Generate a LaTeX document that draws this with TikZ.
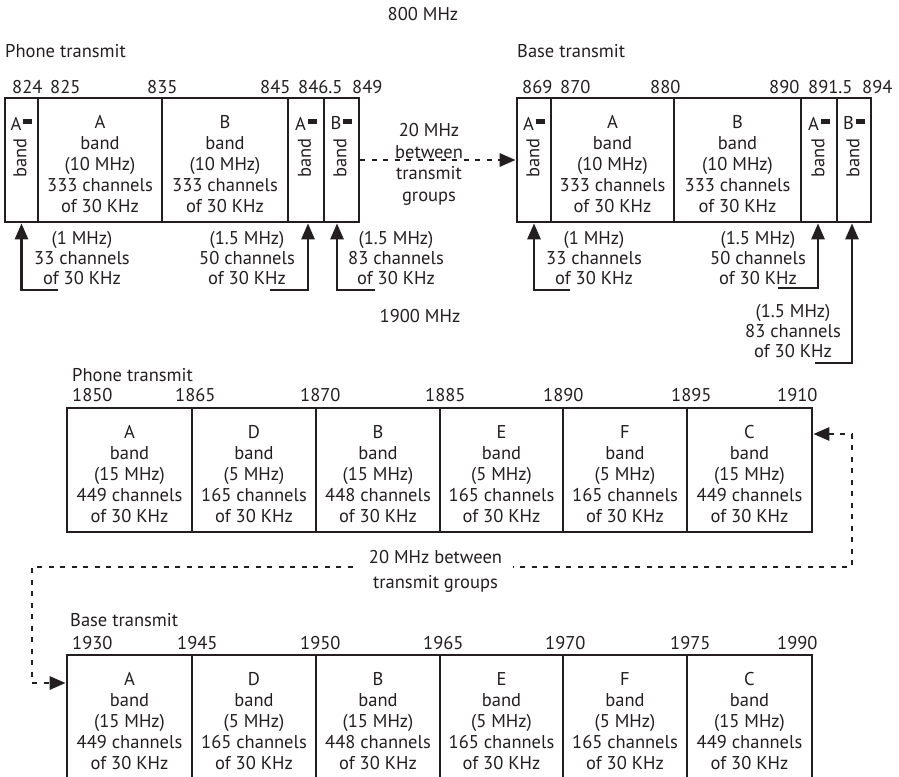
\documentclass[tikz,border=0pt]{standalone}
\usepackage{fontspec}
\setmainfont{PT Sans}
\usetikzlibrary{arrows.meta}
\definecolor{ink}{RGB}{35,31,32}
\newcommand\myfs{\fontsize{18.5pt}{21pt}\selectfont}
\newcommand\notefs{\fontsize{18.5pt}{20pt}\selectfont}
\newcommand\blk{\hspace{2pt}\rule[6pt]{9pt}{5pt}}
\begin{document}
\begin{tikzpicture}[x=1pt,y=-1pt,
  every node/.style={font=\myfs, text=ink},
  cell/.style={draw=ink, line width=2.7pt, minimum height=124pt, inner sep=0pt},
  celltext/.style={align=center, inner sep=0pt},
  lbl/.style={anchor=west, inner sep=0pt},
  note/.style={align=center, inner sep=0pt, font=\notefs},
  rot/.style={rotate=90, inner sep=0pt},
  tipA/.style={-{Triangle[length=16pt,width=13pt]}},
  conn/.style={draw=ink, line width=2.7pt, tipA},
  dotconn/.style={draw=ink, line width=2.8pt, dash pattern=on 5pt off 6.5pt},
]
\useasboundingbox (0,0) rectangle (899,776);

% ---------- titles ----------
\node (t800) at (423,14) {800 MHz};
\node[lbl] (tP1) at (5,51) {Phone transmit};
\node[lbl] (tB1) at (517,51) {Base transmit};
\node (t1900) at (420,316) {1900 MHz};
\node[lbl] (tP2) at (72,375) {Phone transmit};
\node[lbl] (tB2) at (70,620) {Base transmit};

% ---------- 800 MHz frequency labels ----------
\foreach \t/\x [count=\i] in {824/12, 825/50, 835/147, 845/260, 846.5/298, 849/352,
                              869/522, 870/560, 880/650, 890/769, 891.5/808, 894/862}
  \node[lbl] (f8\i) at (\x,87) {\t};

% ---------- 800 MHz phone cells ----------
\node[cell, minimum width=33pt] (pAn) at (21.5,160) {};
\node[cell, minimum width=124pt] (pA) at (100,160) {};
\node[cell, minimum width=126pt] (pB) at (225,160) {};
\node[cell, minimum width=36pt] (pAs) at (306,160) {};
\node[cell, minimum width=35pt] (pBs) at (341.5,160) {};

\node[celltext] (pAt) at ([yshift=-4pt]pA.center) {A\\band\\(10 MHz)\\333 channels\\of 30 KHz};
\node[celltext] (pBt) at ([yshift=-4pt]pB.center) {B\\band\\(10 MHz)\\333 channels\\of 30 KHz};
\node[inner sep=0pt] (pAnT) at (21.5,123.5) {A\blk};
\node[rot] (pAnR) at (20,158) {band};
\node[inner sep=0pt] (pAsT) at (306,123.5) {A\blk};
\node[rot] (pAsR) at (304.5,158) {band};
\node[inner sep=0pt] (pBsT) at (341.5,123.5) {B\blk};
\node[rot] (pBsR) at (340,158) {band};

% ---------- 800 MHz base cells ----------
\node[cell, minimum width=34pt] (bAn) at (534,160) {};
\node[cell, minimum width=123pt] (bA) at (612.5,160) {};
\node[cell, minimum width=127pt] (bB) at (737.5,160) {};
\node[cell, minimum width=36pt] (bAs) at (819,160) {};
\node[cell, minimum width=34pt] (bBs) at (854,160) {};

\node[celltext] (bAt) at ([yshift=-4pt]bA.center) {A\\band\\(10 MHz)\\333 channels\\of 30 KHz};
\node[celltext] (bBt) at ([yshift=-4pt]bB.center) {B\\band\\(10 MHz)\\333 channels\\of 30 KHz};
\node[inner sep=0pt] (bAnT) at (534,123.5) {A\blk};
\node[rot] (bAnR) at (533,158) {band};
\node[inner sep=0pt] (bAsT) at (819,123.5) {A\blk};
\node[rot] (bAsR) at (818,158) {band};
\node[inner sep=0pt] (bBsT) at (854,123.5) {B\blk};
\node[rot] (bBsR) at (853,158) {band};

% ---------- notes under the 800 MHz cells ----------
\node[note] (nL1) at (82,258) {(1 MHz)\\33 channels\\of 30 KHz};
\node[note] (nL2) at (247,258) {(1.5 MHz)\\50 channels\\of 30 KHz};
\node[note] (nL3) at (396,258) {(1.5 MHz)\\83 channels\\of 30 KHz};
\node[note] (nR1) at (594,258) {(1 MHz)\\33 channels\\of 30 KHz};
\node[note] (nR2) at (758,258) {(1.5 MHz)\\50 channels\\of 30 KHz};
\node[note] (nR3) at (793,331.5) {(1.5 MHz)\\83 channels\\of 30 KHz};

\coordinate (eL1) at (58,290);
\coordinate (eL2) at (270,290);
\coordinate (eL3) at (375,290);
\coordinate (eR1) at (570,290);
\coordinate (eR2) at (778,288);
\coordinate (eR3) at (815,363);
\draw[conn] (eL1) -| (pAn.south);
\draw[conn] (eL2) -| ([xshift=2pt]pAs.south);
\draw[conn] (eL3) -| ([xshift=-4.5pt]pBs.south);
\draw[conn] (eR1) -| (bAn.south);
\draw[conn] (eR2) -| ([xshift=-1pt]bAs.south);
\draw[conn] (eR3) -| ([xshift=-2pt]bBs.south);

% ---------- dashed link between 800 MHz groups ----------
\draw[dotconn, tipA] (pBs.east) -- (bAn.west);
\node[align=center, inner sep=0pt, font=\fontsize{18.5pt}{21.5pt}\selectfont] (gap1) at (429,164.5) {20 MHz\\between\\transmit\\groups};

% ---------- 1900 MHz frequency labels ----------
\foreach \t/\x [count=\i] in {1850/72, 1865/175, 1870/300, 1885/425, 1890/543, 1895/671, 1910/777}
  \node[lbl] (fm\i) at (\x,395) {\t};
\foreach \t/\x [count=\i] in {1930/72, 1945/177, 1950/300, 1965/423, 1970/545, 1975/670, 1990/777}
  \node[lbl] (fq\i) at (\x,643) {\t};

% ---------- 1900 MHz cells ----------
\foreach \n/\cx/\w/\L/\mhz/\ch in {A/129.5/125/A/15/449, D/254/124/D/5/165, B/378/124/B/15/448,
                                  E/501.5/123/E/5/165, F/625/124/F/5/165, C/749.5/125/C/15/449} {
  \node[cell, minimum width=\w pt] (m\n) at (\cx,470) {};
  \node[celltext] (mT\n) at ([yshift=-4pt]m\n.center) {\L\\band\\(\mhz~MHz)\\\ch~channels\\of 30 KHz};
  \node[cell, minimum width=\w pt] (q\n) at (\cx,717) {};
  \node[celltext] (qT\n) at ([yshift=-4pt]q\n.center) {\L\\band\\(\mhz~MHz)\\\ch~channels\\of 30 KHz};
}

% ---------- dotted link between 1900 MHz groups ----------
\coordinate (dR) at (852,434);
\coordinate (dRB) at (852,567);
\coordinate (dLB) at (32,567);
\coordinate (dLT) at (32,683);
\draw[dotconn, {Triangle[length=16pt,width=13pt]}-{Triangle[length=16pt,width=13pt]}]
  (dR -| mC.east) -- (dR) -- (dRB) -- (dLB) -- (dLT) -- (dLT -| qA.west);
\node[align=center, fill=white, inner xsep=11pt, inner ysep=2pt,
      font=\fontsize{18.5pt}{25pt}\selectfont] (gap2) at (435.5,571) {20 MHz between\\transmit groups};
\end{tikzpicture}
\end{document}
